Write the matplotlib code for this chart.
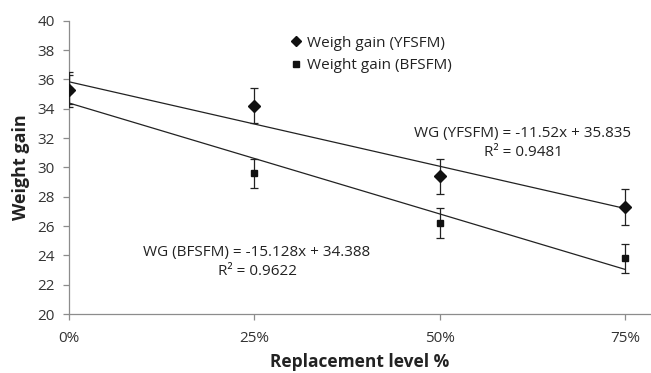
import matplotlib
matplotlib.use("Agg")
import matplotlib.pyplot as plt
import numpy as np

plt.rcParams['font.family'] = ['Open Sans', 'DejaVu Sans']

# Data
levels = [0.0, 0.25, 0.50, 0.75]
tick_labels = ['0%', '25%', '50%', '75%']
wg_yfsfm = [35.3, 34.2, 29.4, 27.3]
err_yfsfm = [1.2, 1.2, 1.2, 1.2]
wg_bfsfm = [35.3, 29.6, 26.2, 23.8]
err_bfsfm = [1.0, 1.0, 1.0, 1.0]
fit_yfsfm = (-11.52, 35.835, 0.9481)
fit_bfsfm = (-15.128, 34.388, 0.9622)
yticks = [20, 22, 24, 26, 28, 30, 32, 34, 36, 38, 40]

fig = plt.figure(figsize=(6.51, 3.73), dpi=100)
ax = fig.add_axes([69/651, 1-314/373, 1-69/651, (314-20.7)/373])

axis_col = '#8c8c8c'
x = np.array(levels)
xx = np.array([levels[0], levels[-1]])

# trend lines
for slope, icpt, _ in (fit_yfsfm, fit_bfsfm):
    ax.plot(xx, slope*xx + icpt, color='#222222', lw=0.9, zorder=2)

# error bars
ax.errorbar(x, wg_bfsfm, yerr=err_bfsfm, fmt='none', ecolor='#222222',
            elinewidth=0.9, capsize=3, capthick=0.9, zorder=3)
ax.errorbar(x, wg_yfsfm, yerr=err_yfsfm, fmt='none', ecolor='#222222',
            elinewidth=0.9, capsize=3, capthick=0.9, zorder=3)

h2, = ax.plot(x, wg_bfsfm, linestyle='none', marker='s', markersize=5,
              color='#111111', zorder=4, label='Weight gain (BFSFM)')
h1, = ax.plot(x, wg_yfsfm, linestyle='none', marker='D', markersize=6,
              color='#111111', zorder=5, label='Weigh gain (YFSFM)')

ax.set_xlim(0, 0.785)
ax.set_ylim(20, 40)
ax.set_xticks(levels)
ax.set_xticklabels(tick_labels)
ax.set_yticks(yticks)

for s in ('top', 'right'):
    ax.spines[s].set_visible(False)
for s in ('left', 'bottom'):
    ax.spines[s].set_color(axis_col)
    ax.spines[s].set_linewidth(0.9)
ax.tick_params(axis='both', colors=axis_col, labelcolor='#333333',
               labelsize=11, width=0.9)
ax.tick_params(axis='y', length=4.3, pad=6)
ax.tick_params(axis='x', length=4.3, pad=8)

ax.set_ylabel('Weight gain', fontsize=13, fontweight='bold', color='#222222', labelpad=5)
ax.set_xlabel('Replacement level %', fontsize=12.5, fontweight='bold', color='#222222', labelpad=5)

ax.legend(handles=[h1, h2], loc='center', bbox_to_anchor=(0.52, 0.885),
          frameon=False, fontsize=11, handlelength=0.6, handletextpad=0.4,
          labelspacing=0.5, labelcolor='#222222', markerscale=0.85)

def eq_text(name, fit):
    s, b, r2 = fit
    sign = '+' if b >= 0 else '-'
    return f"WG ({name}) = {s:g}x {sign} {abs(b):g}\nR\u00b2 = {r2:g}"

fig.text(523/651, 1-143/373, eq_text('YFSFM', fit_yfsfm), ha='center', va='center',
         fontsize=11, color='#222222', linespacing=1.3)
fig.text(257/651, 1-262/373, eq_text('BFSFM', fit_bfsfm), ha='center', va='center',
         fontsize=11, color='#222222', linespacing=1.3)

fig.savefig('out.png', dpi=100)
